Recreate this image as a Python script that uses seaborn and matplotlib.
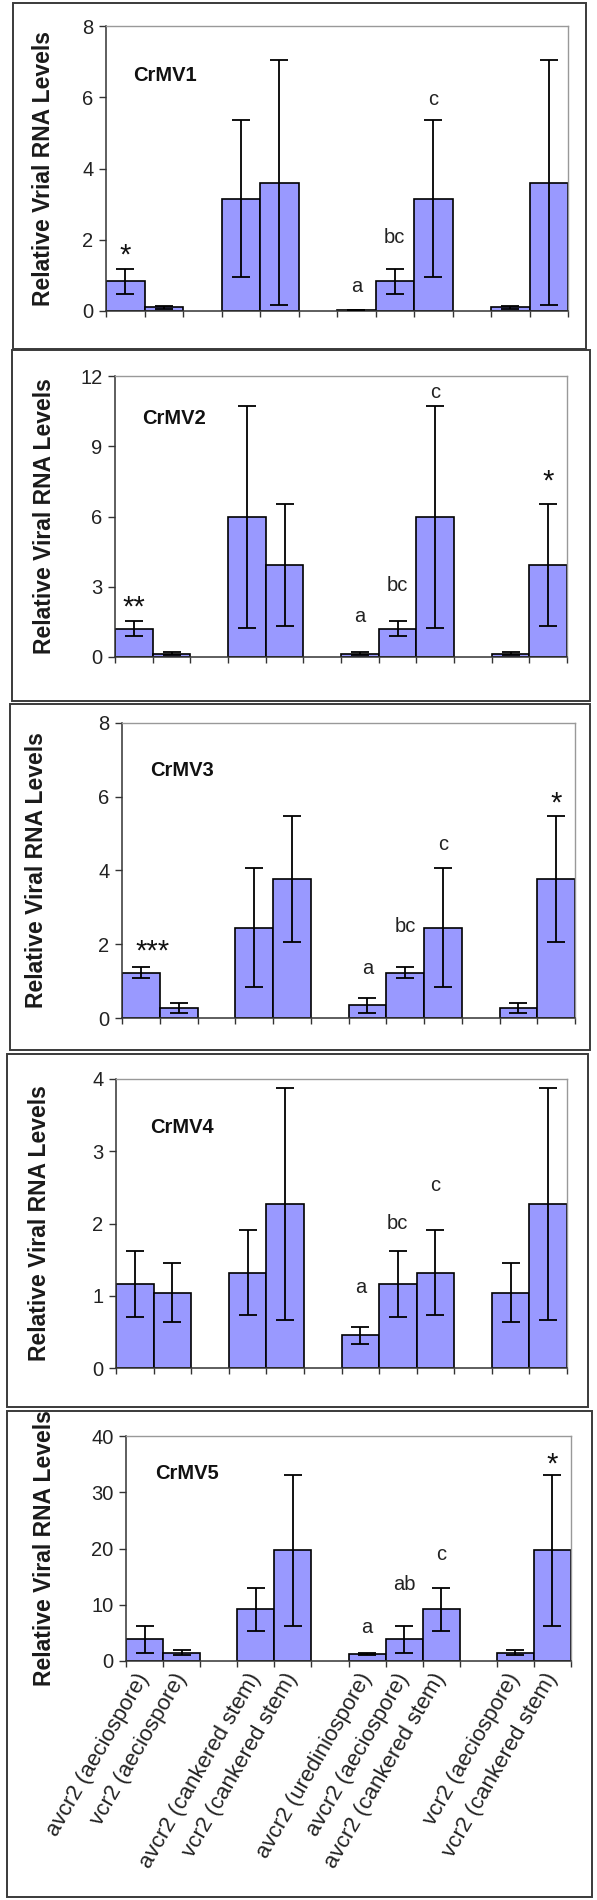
import numpy as np
import pandas as pd
import matplotlib
matplotlib.use("Agg")
import matplotlib.pyplot as plt
import seaborn as sns
from matplotlib.patches import Rectangle

# 12 category slots on the x axis, three of them are empty gaps
slot_keys = ["a_aec1", "v_aec1", "gap1", "a_cank1", "v_cank1", "gap2",
             "a_ured", "a_aec2", "a_cank2", "gap3", "v_aec2", "v_cank2"]
slot_labels = ["avcr2 (aeciospore)", "vcr2 (aeciospore)", "",
               "avcr2 (cankered stem)", "vcr2 (cankered stem)", "",
               "avcr2 (urediniospore)", "avcr2 (aeciospore)", "avcr2 (cankered stem)", "",
               "vcr2 (aeciospore)", "vcr2 (cankered stem)"]
bar_keys = [k for k in slot_keys if not k.startswith("gap")]

panel_names = ["CrMV1", "CrMV2", "CrMV3", "CrMV4", "CrMV5"]
ylabels = ["Relative Vrial RNA Levels", "Relative Viral RNA Levels",
           "Relative Viral RNA Levels", "Relative Viral RNA Levels",
           "Relative Viral RNA Levels"]

crmv1_mean = [0.83, 0.11, 3.15, 3.6, 0.03, 0.83, 3.15, 0.11, 3.6]
crmv1_err = [0.35, 0.04, 2.2, 3.44, 0.0, 0.35, 2.2, 0.04, 3.44]
crmv2_mean = [1.21, 0.14, 5.97, 3.94, 0.14, 1.21, 5.97, 0.14, 3.94]
crmv2_err = [0.32, 0.06, 4.75, 2.6, 0.06, 0.32, 4.75, 0.06, 2.6]
crmv3_mean = [1.23, 0.27, 2.45, 3.77, 0.34, 1.23, 2.45, 0.27, 3.77]
crmv3_err = [0.15, 0.13, 1.62, 1.72, 0.2, 0.15, 1.62, 0.13, 1.72]
crmv4_mean = [1.16, 1.04, 1.32, 2.27, 0.45, 1.16, 1.32, 1.04, 2.27]
crmv4_err = [0.46, 0.41, 0.59, 1.6, 0.12, 0.46, 0.59, 0.41, 1.6]
crmv5_mean = [3.9, 1.5, 9.2, 19.7, 1.3, 3.9, 9.2, 1.5, 19.7]
crmv5_err = [2.4, 0.4, 3.8, 13.4, 0.2, 2.4, 3.8, 0.4, 13.4]

means = [crmv1_mean, crmv2_mean, crmv3_mean, crmv4_mean, crmv5_mean]
errs = [crmv1_err, crmv2_err, crmv3_err, crmv4_err, crmv5_err]

y_max = [8, 12, 8, 4, 40]
y_step = [2, 3, 2, 1, 10]

# significance letters / stars: (slot index, y, text)
marks = [
    [(0, 1.75, "*"), (6, 0.7, "a"), (7, 2.05, "bc"), (8, 5.95, "c")],
    [(0, 2.4, "**"), (6, 1.73, "a"), (7, 3.07, "bc"), (8, 11.3, "c"), (11, 7.8, "*")],
    [(0.3, 2.0, "***"), (6, 1.34, "a"), (7, 2.47, "bc"), (8, 4.7, "c"), (11, 6.0, "*")],
    [(6, 1.12, "a"), (7, 2.0, "bc"), (8, 2.53, "c")],
    [(6, 6.0, "a"), (7, 13.6, "ab"), (8, 18.9, "c"), (11, 36.2, "*")],
]
name_pos = [(0.2, 6.6), (0.22, 10.2), (0.24, 6.7), (0.4, 3.33), (0.28, 33.4)]

# layout in pixels of a 597x1900 canvas
W, H = 597, 1900
axes_px = [(106, 568, 26, 311), (115, 567, 376, 657), (122, 575, 723, 1018),
           (116, 567, 1079, 1368), (126, 571, 1436, 1661)]
box_px = [(13, 586, 3, 349), (12, 590, 350, 701), (10, 590, 704, 1050),
          (7, 588, 1054, 1407), (7, 592, 1411, 1897)]
ylabel_x = [43, 45, 37, 40, 45]

sns.set_style("ticks")
plt.rcParams["font.family"] = ["Liberation Sans", "DejaVu Sans"]

fig = plt.figure(figsize=(W / 100, H / 100), dpi=100)

for i in range(5):
    l, r, t, b = axes_px[i]
    ax = fig.add_axes([l / W, 1 - b / H, (r - l) / W, (b - t) / H])
    df = pd.DataFrame({"slot": bar_keys, "level": means[i]})
    sns.barplot(data=df, x="slot", y="level", order=slot_keys, color="#9999ff",
                saturation=1, width=1.0, edgecolor="black", linewidth=1.2,
                errorbar=None, ax=ax, zorder=2)
    xpos = [slot_keys.index(k) for k in bar_keys]
    ax.errorbar(xpos, means[i], yerr=errs[i], fmt="none", ecolor="black",
                elinewidth=1.3, capsize=6.5, capthick=1.3, zorder=3)

    ax.set_xlim(-0.5, 11.5)
    ax.set_ylim(0, y_max[i])
    ax.set_yticks(np.arange(0, y_max[i] + 0.1, y_step[i]))
    ax.set_xticks(range(12))
    if i == 4:
        ax.set_xticklabels(slot_labels, rotation=60, ha="right",
                           rotation_mode="anchor", va="center", fontsize=16,
                           color="#222222")
    else:
        ax.set_xticklabels([""] * 12)
    ax.set_xticks(np.arange(-0.5, 12, 1), minor=True)
    ax.tick_params(axis="x", which="major", length=0, pad=10)
    ax.tick_params(axis="x", which="minor", length=4.5, width=1, color="#333333")
    ax.tick_params(axis="y", length=5, width=1, color="#333333",
                   labelsize=14.5, labelcolor="#222222", pad=4)
    ax.set_xlabel("")
    ax.set_ylabel(ylabels[i], fontsize=16.5, fontweight="bold", color="#1a1a1a")
    ax.yaxis.label.set_va("center")
    ax.yaxis.set_label_coords((ylabel_x[i] - l) / (r - l), 0.5)

    for side in ["left", "bottom"]:
        ax.spines[side].set_color("#333333")
        ax.spines[side].set_linewidth(1.1)
    for side in ["top", "right"]:
        ax.spines[side].set_visible(True)
        ax.spines[side].set_color("#999999")
        ax.spines[side].set_linewidth(1.0)

    nx, ny = name_pos[i]
    ax.text(nx, ny, panel_names[i], fontsize=14.5, fontweight="bold",
            ha="left", va="center", color="#111111")
    for sx, sy, s in marks[i]:
        if "*" in s:
            # asterisks sit high in the line box, nudge them down a little
            ax.annotate(s, (sx, sy), xytext=(0, -5), textcoords="offset points",
                        fontsize=21, ha="center", va="center", color="#111111")
        else:
            ax.text(sx, sy, s, fontsize=14.5, ha="center", va="center",
                    color="#222222")

    bl, br, bt, bb = box_px[i]
    fig.add_artist(Rectangle((bl / W, 1 - bb / H), (br - bl) / W, (bb - bt) / H,
                             transform=fig.transFigure, fill=False,
                             edgecolor="#3a3a3a", linewidth=1.4))

fig.savefig("out.png", dpi=100, facecolor="white")
